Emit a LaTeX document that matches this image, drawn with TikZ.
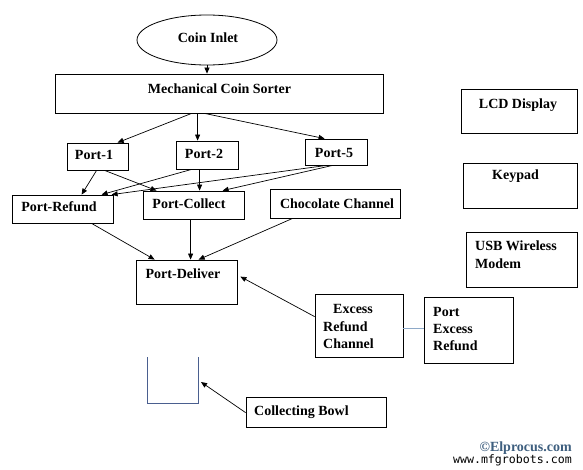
\documentclass[tikz,border=0pt]{standalone}
\usepackage{fontspec}
\setmainfont{Liberation Serif}
\newfontfamily\wmmono{DejaVu Sans Mono}
\usetikzlibrary{arrows.meta,shapes.geometric,fit}
\definecolor{bowlcol}{HTML}{4A5F8F}
\definecolor{linkcol}{HTML}{8EA9C8}
\definecolor{wmcol}{HTML}{3E5F7F}
\tikzset{
  box/.style={draw=black, line width=0.8pt, inner sep=0pt},
  txt/.style={font=\fontsize{14}{17}\selectfont\bfseries, inner sep=0pt, yshift=-3pt},
  arr/.style={draw=black, line width=0.7pt, -{Triangle[length=6pt,width=5pt]}},
}
\begin{document}
\begin{tikzpicture}[x=1pt,y=-1pt]
\useasboundingbox[fill=white] (0,0) rectangle (583,469);

% ellipse
\node[draw=black, line width=0.8pt, ellipse, minimum width=140pt, minimum height=50pt, inner sep=0pt] (inlet) at (207,40) {};
\node[txt, anchor=mid] (tinlet) at (208,37) {Coin Inlet};

% boxes
\node[box, fit={(55,74) (383,113)}] (sorter) {};
\node[box, fit={(67,143) (128,170)}] (p1) {};
\node[box, fit={(176,141) (238,169)}] (p2) {};
\node[box, fit={(305,139) (367,165)}] (p5) {};
\node[box, fit={(12,195) (113,223)}] (refund) {};
\node[box, fit={(143,191) (244,219)}] (collect) {};
\node[box, fit={(270,189) (400,218)}] (choc) {};
\node[box, fit={(136,260) (237,304)}] (deliver) {};
\node[box, fit={(315,294) (403,357)}] (excess) {};
\node[box, fit={(424,297) (513,363)}] (pexcess) {};
\node[box, fit={(246,397) (386,427)}] (bowlbox) {};
\node[box, fit={(461,89) (577,133)}] (lcd) {};
\node[box, fit={(463,163) (577,208)}] (keypad) {};
\node[box, fit={(466,232) (577,287)}] (usb) {};

% texts
\node[txt, anchor=mid] (tsorter) at (219.5,88) {Mechanical Coin Sorter};
\node[txt, anchor=mid] (tp1) at (94,154) {Port-1};
\node[txt, anchor=mid] (tp2) at (204,153) {Port-2};
\node[txt, anchor=mid] (tp5) at (334,152) {Port-5};
\node[txt, anchor=mid] (trefund) at (59,206) {Port-Refund};
\node[txt, anchor=mid] (tcollect) at (189,203.5) {Port-Collect};
\node[txt, anchor=mid] (tchoc) at (337,203) {Chocolate Channel};
\node[txt, anchor=mid] (tdeliver) at (183,273.5) {Port-Deliver};
\node[txt, anchor=mid west] (tex1) at (333,308) {Excess};
\node[txt, anchor=mid west] (tex2) at (323,326) {Refund};
\node[txt, anchor=mid west] (tex3) at (323,343) {Channel};
\node[txt, anchor=mid west] (tpe1) at (433,311) {Port};
\node[txt, anchor=mid west] (tpe2) at (433,328) {Excess};
\node[txt, anchor=mid west] (tpe3) at (433,345) {Refund};
\node[txt, anchor=mid west] (tbowl) at (254,410) {Collecting Bowl};
\node[txt, anchor=mid] (tlcd) at (518,103) {LCD Display};
\node[txt, anchor=mid] (tkey) at (515.5,174) {Keypad};
\node[txt, anchor=mid west] (tusb1) at (475,245) {USB Wireless};
\node[txt, anchor=mid west] (tusb2) at (475,263) {Modem};

% watermark
\node[txt, anchor=mid east, text=wmcol] (wm1) at (572,446) {©Elprocus.com};
\node[font=\wmmono\fontsize{11.6}{13}\selectfont, inner sep=0pt, anchor=mid east, yshift=-2pt] (wm2) at (572,459) {www.mfgrobots.com};

% collecting bowl
\draw[bowlcol, line width=0.8pt] (147,357) -- (147,403) -- (198,403) -- (198,357);
\coordinate (bowltip) at (201,382);

% connectors
\draw[arr] (inlet.south) -- (inlet.south |- sorter.north);
\draw[arr] ([xshift=137pt]sorter.south west) -- ([xshift=51pt]p1.north west);
\draw[arr] ([xshift=143pt]sorter.south west) -- ([xshift=22pt]p2.north west);
\draw[arr] ([xshift=150pt]sorter.south west) -- ([xshift=20pt]p5.north west);

\draw[arr] ([xshift=30pt]p1.south west) -- ([xshift=70pt]refund.north west);
\draw[arr] ([xshift=38pt]p1.south west) -- ([xshift=14pt]collect.north west);
\draw[arr] ([xshift=16pt]p2.south west) -- ([xshift=90pt]refund.north west);
\draw[arr] ([xshift=24pt]p2.south west) -- ([xshift=57pt]collect.north west);
\draw[arr] ([xshift=22pt]p5.south west) -- ([xshift=100pt]refund.north west);
\draw[arr] ([xshift=28pt]p5.south west) -- ([xshift=80pt]collect.north west);

\draw[arr] ([xshift=80pt]refund.south west) -- ([xshift=19pt]deliver.north west);
\draw[arr] ([xshift=48pt]collect.south west) -- ([xshift=55pt]deliver.north west);
\draw[arr] ([xshift=23pt]choc.south west) -- ([xshift=63pt]deliver.north west);
\draw[arr] ([yshift=-23pt]excess.north west) -- ([shift={(3,17)}]deliver.north east);
\draw[linkcol, line width=1pt] ([yshift=-35pt]excess.north east) -- ([yshift=-32pt]pexcess.north west);
\draw[arr] ([yshift=-16pt]bowlbox.north west) -- (bowltip);
\end{tikzpicture}
\end{document}
